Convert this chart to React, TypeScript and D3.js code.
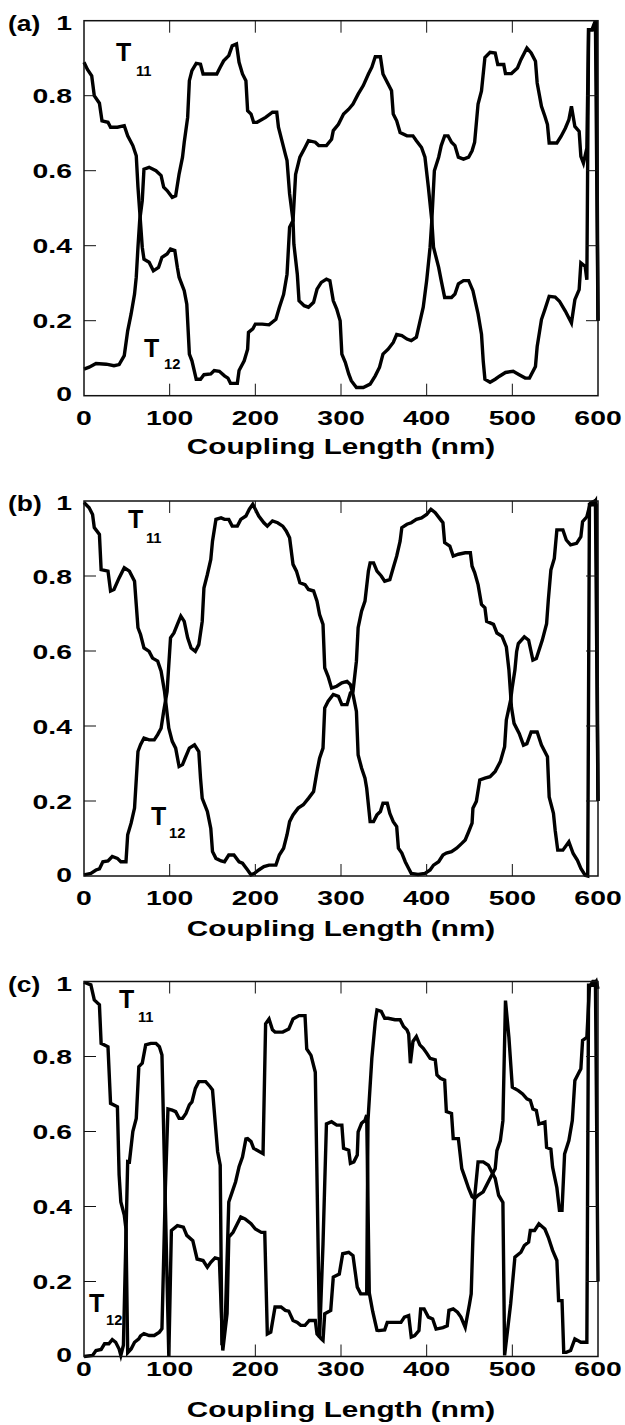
import React from 'react';
import * as d3 from 'd3';

// ---------- data ----------
const xTicks = [0, 100, 200, 300, 400, 500, 600];
const yTicks = [0, 0.2, 0.4, 0.6, 0.8, 1];
const yTickLabels = ['0', '0.2', '0.4', '0.6', '0.8', '1'];
const panelLabels = ['(a)', '(b)', '(c)'];
const xTitle = 'Coupling Length (nm)';

const aT11: [number, number][] = [
  [0, 0.889], [4, 0.87], [9, 0.853], [12, 0.8], [18, 0.78], [21, 0.733], [28, 0.729], [31, 0.716], [39, 0.716], [47, 0.72],
  [51, 0.693], [57, 0.667], [61, 0.64], [63, 0.556], [65, 0.493], [68, 0.396], [70, 0.364], [76, 0.356], [81, 0.333], [87, 0.342],
  [91, 0.369], [97, 0.378], [101, 0.391], [106, 0.387], [109, 0.342], [111, 0.316], [117, 0.28], [120, 0.244], [123, 0.111], [126, 0.093],
  [131, 0.044], [136, 0.044], [140, 0.056], [148, 0.058], [152, 0.067], [158, 0.065], [164, 0.053], [168, 0.047], [171, 0.033], [179, 0.033],
  [181, 0.067], [187, 0.093], [191, 0.124], [192, 0.169], [197, 0.178], [200, 0.191], [208, 0.191], [216, 0.189], [224, 0.204], [228, 0.235],
  [233, 0.27], [237, 0.324], [240, 0.449], [244, 0.467], [247, 0.59], [252, 0.636], [258, 0.662], [262, 0.68], [270, 0.676], [274, 0.667],
  [283, 0.667], [289, 0.684], [291, 0.707], [297, 0.724], [303, 0.751], [309, 0.764], [314, 0.778], [320, 0.804], [326, 0.827], [332, 0.858],
  [336, 0.876], [340, 0.904], [346, 0.904], [349, 0.858], [355, 0.831], [359, 0.813], [361, 0.751], [365, 0.733], [369, 0.702], [377, 0.693],
  [384, 0.693], [388, 0.68], [394, 0.662], [398, 0.636], [402, 0.556], [406, 0.467], [408, 0.396], [414, 0.342], [417, 0.307], [421, 0.262],
  [429, 0.262], [433, 0.271], [437, 0.298], [443, 0.307], [449, 0.307], [454, 0.28], [460, 0.218], [464, 0.164], [466, 0.093], [468, 0.044],
  [474, 0.036], [480, 0.044], [485, 0.052], [492, 0.062], [501, 0.065], [508, 0.056], [515, 0.047], [520, 0.047], [527, 0.078], [529, 0.131],
  [534, 0.203], [538, 0.23], [543, 0.265], [550, 0.263], [555, 0.252], [562, 0.225], [569, 0.194], [573, 0.256], [578, 0.283], [580, 0.354],
  [585, 0.345], [587, 0.309], [589, 0.976], [593, 0.976], [597, 1.0], [600, 0.2],
];
const aT12: [number, number][] = [
  [0, 0.071], [6, 0.076], [14, 0.086], [26, 0.084], [35, 0.08], [41, 0.083], [47, 0.107], [51, 0.173], [55, 0.218], [59, 0.271],
  [61, 0.316], [63, 0.396], [65, 0.467], [68, 0.52], [70, 0.604], [76, 0.609], [84, 0.6], [90, 0.587], [93, 0.556], [97, 0.547],
  [103, 0.529], [107, 0.533], [111, 0.591], [115, 0.636], [117, 0.676], [121, 0.742], [123, 0.84], [126, 0.867], [131, 0.886], [136, 0.884],
  [139, 0.858], [144, 0.858], [155, 0.858], [159, 0.876], [163, 0.893], [169, 0.907], [173, 0.933], [178, 0.938], [181, 0.889], [185, 0.858],
  [189, 0.84], [191, 0.76], [195, 0.751], [198, 0.729], [202, 0.729], [212, 0.742], [220, 0.756], [225, 0.756], [227, 0.716], [231, 0.68],
  [235, 0.644], [237, 0.627], [240, 0.538], [244, 0.467], [245, 0.404], [249, 0.324], [251, 0.253], [257, 0.24], [262, 0.236], [268, 0.249],
  [272, 0.284], [277, 0.302], [283, 0.311], [287, 0.307], [291, 0.253], [295, 0.231], [299, 0.2], [301, 0.111], [305, 0.089], [309, 0.058],
  [312, 0.04], [318, 0.022], [326, 0.022], [334, 0.031], [340, 0.053], [345, 0.076], [349, 0.111], [355, 0.124], [361, 0.142], [365, 0.163],
  [371, 0.16], [377, 0.151], [382, 0.147], [388, 0.156], [392, 0.196], [396, 0.236], [400, 0.307], [404, 0.396], [406, 0.467], [409, 0.6],
  [414, 0.636], [417, 0.667], [421, 0.693], [425, 0.693], [429, 0.676], [433, 0.667], [437, 0.636], [443, 0.631], [449, 0.636], [453, 0.653],
  [456, 0.676], [460, 0.778], [464, 0.813], [468, 0.902], [474, 0.916], [480, 0.914], [483, 0.883], [490, 0.883], [492, 0.859], [499, 0.859],
  [506, 0.874], [510, 0.896], [517, 0.927], [522, 0.914], [527, 0.892], [529, 0.834], [534, 0.772], [538, 0.745], [541, 0.723], [543, 0.674],
  [552, 0.674], [557, 0.692], [562, 0.714], [566, 0.736], [569, 0.772], [573, 0.718], [578, 0.705], [580, 0.638], [583, 0.62], [587, 0.66],
  [589, 0.976], [594, 0.976], [598, 1.0], [600, 0.2],
];

const bT11: [number, number][] = [
  [0, 0.996], [6, 0.982], [10, 0.964], [12, 0.929], [18, 0.911], [20, 0.817], [28, 0.813], [31, 0.76], [35, 0.764], [41, 0.795],
  [47, 0.822], [53, 0.813], [59, 0.786], [61, 0.724], [63, 0.662], [66, 0.644], [70, 0.608], [76, 0.599], [80, 0.581], [86, 0.573],
  [90, 0.546], [94, 0.492], [99, 0.394], [103, 0.359], [107, 0.341], [111, 0.292], [115, 0.297], [118, 0.314], [123, 0.341], [129, 0.35],
  [134, 0.332], [136, 0.261], [138, 0.207], [144, 0.172], [148, 0.127], [150, 0.065], [154, 0.047], [160, 0.04], [164, 0.038], [169, 0.056],
  [175, 0.056], [181, 0.038], [185, 0.034], [191, 0.016], [195, 0.003], [199, 0.007], [204, 0.016], [210, 0.025], [216, 0.029], [224, 0.029],
  [228, 0.056], [233, 0.074], [237, 0.11], [240, 0.145], [244, 0.163], [250, 0.181], [256, 0.19], [262, 0.207], [268, 0.225], [272, 0.279],
  [275, 0.314], [279, 0.341], [281, 0.448], [285, 0.466], [291, 0.484], [297, 0.479], [301, 0.457], [307, 0.457], [311, 0.488], [314, 0.492],
  [318, 0.573], [320, 0.662], [324, 0.706], [328, 0.733], [332, 0.813], [334, 0.835], [338, 0.835], [342, 0.813], [347, 0.8], [351, 0.786],
  [357, 0.79], [361, 0.822], [365, 0.853], [369, 0.893], [371, 0.929], [377, 0.938], [382, 0.942], [388, 0.951], [394, 0.955], [400, 0.964],
  [405, 0.978], [410, 0.969], [416, 0.951], [419, 0.942], [421, 0.889], [427, 0.88], [431, 0.853], [437, 0.858], [445, 0.862], [451, 0.862],
  [453, 0.826], [456, 0.809], [460, 0.777], [464, 0.724], [468, 0.715], [470, 0.679], [478, 0.671], [482, 0.648], [488, 0.639], [493, 0.611],
  [496, 0.55], [499, 0.45], [502, 0.407], [508, 0.38], [513, 0.349], [517, 0.353], [522, 0.384], [529, 0.384], [534, 0.349], [541, 0.318],
  [543, 0.211], [548, 0.167], [550, 0.122], [553, 0.069], [559, 0.069], [566, 0.091], [571, 0.06], [576, 0.042], [580, 0.02], [585, 0.002],
  [588, 0.0], [590, 0.99], [594, 0.99], [597, 1.0], [600, 0.2],
];
const bT12: [number, number][] = [
  [0, 0.003], [8, 0.007], [14, 0.016], [18, 0.019], [22, 0.038], [28, 0.04], [33, 0.052], [39, 0.047], [43, 0.038], [49, 0.038],
  [51, 0.11], [55, 0.141], [59, 0.181], [63, 0.332], [66, 0.35], [70, 0.368], [76, 0.363], [82, 0.363], [86, 0.377], [90, 0.394],
  [93, 0.439], [97, 0.492], [101, 0.635], [105, 0.648], [109, 0.671], [113, 0.693], [117, 0.679], [121, 0.635], [125, 0.608], [130, 0.599],
  [134, 0.617], [138, 0.679], [140, 0.768], [144, 0.804], [148, 0.844], [150, 0.893], [154, 0.951], [160, 0.955], [164, 0.951], [169, 0.951],
  [173, 0.933], [179, 0.933], [183, 0.951], [189, 0.96], [193, 0.978], [197, 0.991], [200, 0.978], [204, 0.96], [210, 0.942], [214, 0.933],
  [220, 0.947], [226, 0.942], [232, 0.933], [236, 0.92], [240, 0.902], [244, 0.831], [248, 0.813], [252, 0.782], [258, 0.777], [262, 0.764],
  [268, 0.76], [272, 0.733], [275, 0.697], [279, 0.671], [281, 0.555], [285, 0.532], [289, 0.501], [295, 0.506], [301, 0.515], [307, 0.519],
  [311, 0.51], [314, 0.484], [318, 0.439], [320, 0.323], [324, 0.288], [328, 0.261], [330, 0.234], [334, 0.145], [338, 0.145], [342, 0.163],
  [346, 0.172], [349, 0.194], [354, 0.194], [357, 0.167], [361, 0.145], [365, 0.132], [367, 0.074], [371, 0.061], [375, 0.038], [379, 0.02],
  [382, 0.007], [390, 0.004], [398, 0.007], [404, 0.016], [408, 0.029], [414, 0.038], [419, 0.056], [423, 0.061], [429, 0.065], [435, 0.074],
  [441, 0.087], [445, 0.096], [449, 0.118], [453, 0.141], [454, 0.181], [458, 0.199], [462, 0.256], [468, 0.261], [474, 0.265], [480, 0.279],
  [486, 0.305], [491, 0.345], [493, 0.416], [498, 0.469], [500, 0.505], [503, 0.549], [505, 0.598], [507, 0.62], [514, 0.638], [519, 0.629],
  [524, 0.576], [528, 0.58], [535, 0.629], [540, 0.673], [542, 0.736], [545, 0.816], [549, 0.847], [552, 0.923], [559, 0.923], [563, 0.896],
  [568, 0.883], [575, 0.887], [580, 0.905], [582, 0.945], [587, 0.958], [591, 0.994], [596, 1.0], [598, 0.99], [600, 0.2],
];

const cT11: [number, number][] = [
  [0, 0.998], [8, 0.991], [12, 0.951], [18, 0.938], [20, 0.835], [28, 0.826], [31, 0.675], [39, 0.666], [41, 0.484], [43, 0.412],
  [47, 0.377], [49, 0.34], [51, 0.01], [55, 0.02], [59, 0.038], [64, 0.047], [66, 0.055], [70, 0.061], [76, 0.056], [82, 0.056],
  [88, 0.065], [91, 0.074], [95, 0.45], [98, 0.66], [103, 0.657], [107, 0.653], [111, 0.635], [115, 0.635], [119, 0.648], [123, 0.671],
  [126, 0.679], [130, 0.715], [134, 0.733], [142, 0.733], [147, 0.72], [150, 0.711], [156, 0.546], [159, 0.51], [161, 0.03], [165, 0.1],
  [169, 0.412], [173, 0.439], [177, 0.466], [181, 0.506], [185, 0.532], [189, 0.58], [191, 0.581], [195, 0.573], [198, 0.555], [202, 0.55],
  [209, 0.541], [212, 0.887], [216, 0.9], [220, 0.871], [223, 0.865], [232, 0.865], [239, 0.873], [244, 0.9], [251, 0.909], [258, 0.909],
  [260, 0.82], [265, 0.803], [270, 0.758], [275, 0.05], [279, 0.3], [283, 0.62], [289, 0.626], [295, 0.617], [301, 0.617], [303, 0.555],
  [309, 0.55], [311, 0.515], [315, 0.519], [319, 0.537], [320, 0.599], [324, 0.622], [328, 0.63], [330, 0.644], [333, 0.17], [337, 0.12],
  [342, 0.07], [344, 0.069], [351, 0.071], [354, 0.091], [363, 0.091], [370, 0.091], [374, 0.105], [379, 0.109], [382, 0.052], [386, 0.056],
  [391, 0.069], [393, 0.127], [397, 0.127], [402, 0.105], [407, 0.1], [411, 0.073], [419, 0.077], [424, 0.082], [426, 0.123], [431, 0.127],
  [436, 0.118], [440, 0.105], [445, 0.078], [450, 0.14], [452, 0.167], [454, 0.318], [456, 0.425], [460, 0.519], [466, 0.519], [472, 0.51],
  [476, 0.492], [480, 0.475], [484, 0.43], [489, 0.411], [491, 0.003], [498, 0.14], [503, 0.265], [510, 0.278], [514, 0.296], [519, 0.305],
  [521, 0.336], [526, 0.336], [531, 0.354], [538, 0.34], [542, 0.318], [547, 0.283], [552, 0.256], [554, 0.149], [558, 0.149], [560, 0.011],
  [563, 0.011], [568, 0.016], [573, 0.047], [580, 0.038], [587, 0.038], [589, 0.99], [595, 0.99], [598, 1.0], [600, 0.98],
];
const cT12: [number, number][] = [
  [0, 0.0], [10, 0.003], [14, 0.016], [20, 0.019], [24, 0.034], [29, 0.034], [33, 0.045], [37, 0.038], [41, 0.02], [43, 0.003],
  [46, 0.03], [51, 0.52], [53, 0.519], [57, 0.6], [61, 0.635], [64, 0.773], [68, 0.782], [72, 0.831], [78, 0.835], [84, 0.835],
  [88, 0.826], [91, 0.804], [99, 0.0], [102, 0.336], [109, 0.349], [116, 0.345], [120, 0.323], [127, 0.309], [132, 0.26], [139, 0.256],
  [144, 0.238], [148, 0.251], [153, 0.263], [158, 0.26], [162, 0.016], [167, 0.114], [169, 0.318], [174, 0.331], [179, 0.354], [183, 0.372],
  [188, 0.367], [195, 0.354], [200, 0.34], [207, 0.331], [211, 0.331], [214, 0.06], [218, 0.065], [223, 0.132], [230, 0.132], [235, 0.123],
  [239, 0.121], [244, 0.096], [249, 0.091], [253, 0.083], [258, 0.083], [263, 0.096], [270, 0.096], [272, 0.06], [277, 0.047], [279, 0.043],
  [281, 0.114], [288, 0.123], [291, 0.212], [298, 0.22], [302, 0.274], [309, 0.278], [314, 0.269], [319, 0.185], [323, 0.167], [330, 0.167],
  [331.5, 0.63], [336, 0.795], [340, 0.893], [342, 0.924], [347, 0.92], [351, 0.902], [355, 0.902], [363, 0.898], [369, 0.898], [373, 0.88],
  [377, 0.871], [379, 0.86], [381, 0.782], [384, 0.84], [388, 0.853], [392, 0.831], [396, 0.822], [400, 0.809], [404, 0.795], [410, 0.791],
  [412, 0.751], [416, 0.742], [421, 0.737], [423, 0.653], [429, 0.648], [431, 0.581], [437, 0.581], [441, 0.501], [445, 0.475], [449, 0.448],
  [453, 0.426], [456, 0.421], [460, 0.43], [466, 0.439], [470, 0.457], [476, 0.484], [480, 0.501], [482, 0.549], [486, 0.576], [489, 0.629],
  [492, 0.949], [496, 0.851], [500, 0.718], [507, 0.709], [512, 0.7], [517, 0.687], [521, 0.683], [524, 0.66], [528, 0.656], [531, 0.62],
  [538, 0.625], [540, 0.558], [545, 0.553], [547, 0.505], [552, 0.45], [555, 0.39], [558, 0.39], [561, 0.54], [566, 0.576], [570, 0.629],
  [573, 0.736], [577, 0.754], [580, 0.767], [582, 0.843], [587, 0.851], [590, 0.985], [594, 1.0], [597, 1.0], [600, 0.2],
];

const panelSeries = [
  [aT11, aT12],
  [bT11, bT12],
  [cT11, cT12],
];

// ---------- layout ----------
const W = 625;
const H = 1425;
const X0 = 84;
const X1 = 598;
const PH = 375;
const TOPS = [20.7, 501, 981.5];
const TICKLABEL_OFF = [22, 21.5, 11.5];
const TITLE_OFF = [50, 52, 52];
const FONT = '"Liberation Sans", Arial, Helvetica, sans-serif';
const SX = 1.35;
// positions of the T labels (T left, T baseline, sub left, sub baseline), relative to panel top
const TLAB = [
  { t11: [116, 40.5, 136, 55.5], t12: [144, 336.5, 164, 348.5] },
  { t11: [128, 27, 146, 42], t12: [151, 324, 169, 337] },
  { t11: [119, 26.5, 138, 40.5], t12: [89, 330.5, 106, 343.5] },
];

function SText(props: { x: number; y: number; anchor?: string; size: number; sx?: number; children: React.ReactNode }) {
  const { x, y, anchor = 'start', size, sx = SX, children } = props;
  return (
    <text
      transform={`translate(${x},${y}) scale(${sx},1)`}
      textAnchor={anchor as any}
      fontSize={size}
      fontWeight="bold"
      fontFamily={FONT}
      fill="#000"
    >
      {children}
    </text>
  );
}

function Panel({ idx }: { idx: number }) {
  const top = TOPS[idx];
  const x = d3.scaleLinear().domain([0, 600]).range([X0, X1]);
  const y = d3.scaleLinear().domain([0, 1]).range([top + PH, top]);
  const line = d3
    .line<[number, number]>()
    .x((d) => x(d[0]))
    .y((d) => y(d[1]));
  const [s1, s2] = panelSeries[idx];
  const lab = TLAB[idx];
  const bottom = top + PH;
  return (
    <g>
      {/* curves */}
      <path d={line(s1) || ''} fill="none" stroke="#000" strokeWidth={3.4} />
      <path d={line(s2) || ''} fill="none" stroke="#000" strokeWidth={3.4} />
      {/* frame */}
      <rect x={X0} y={top} width={X1 - X0} height={PH} fill="none" stroke="#111" strokeWidth={1.5} />
      {/* x ticks */}
      {xTicks
        .filter((t) => t > 0 && t < 600)
        .map((t) => (
          <g key={'xt' + t}>
            <line x1={x(t)} x2={x(t)} y1={bottom} y2={bottom - 12} stroke="#111" strokeWidth={1} />
            <line x1={x(t)} x2={x(t)} y1={top} y2={top + 12} stroke="#111" strokeWidth={1} />
          </g>
        ))}
      {/* y ticks */}
      {yTicks
        .filter((t) => t > 0 && t < 1)
        .map((t) => (
          <g key={'yt' + t}>
            <line x1={X0} x2={X0 + 12} y1={y(t)} y2={y(t)} stroke="#111" strokeWidth={1} />
            <line x1={X1} x2={X1 - 12} y1={y(t)} y2={y(t)} stroke="#111" strokeWidth={1} />
          </g>
        ))}
      {/* y tick labels */}
      {yTicks.map((t, i) => {
        const cy = y(t) + (t === 1 ? 1.5 : t === 0 ? -2 : 0);
        return (
          <SText key={'yl' + t} x={72} y={cy + 7.5} anchor="end" size={21}>
            {yTickLabels[i]}
          </SText>
        );
      })}
      {/* x tick labels */}
      {xTicks.map((t) => (
        <SText key={'xl' + t} x={x(t)} y={bottom + TICKLABEL_OFF[idx] + 7.5} anchor="middle" size={21}>
          {String(t)}
        </SText>
      ))}
      {/* axis title */}
      <SText x={(X0 + X1) / 2} y={bottom + TITLE_OFF[idx] + 8} anchor="middle" size={22}>
        {xTitle}
      </SText>
      {/* panel label */}
      <SText x={8} y={top + 10} size={22} sx={1.2}>
        {panelLabels[idx]}
      </SText>
      {/* series labels */}
      <SText x={lab.t11[0]} y={top + lab.t11[1]} size={25} sx={1}>T</SText>
      <SText x={lab.t11[2]} y={top + lab.t11[3]} size={14} sx={1.05}>11</SText>
      <SText x={lab.t12[0]} y={top + lab.t12[1]} size={25} sx={1}>T</SText>
      <SText x={lab.t12[2]} y={top + lab.t12[3]} size={14} sx={1.05}>12</SText>
    </g>
  );
}

export default function App() {
  return (
    <svg
      width={W}
      height={H}
      viewBox={`0 0 ${W} ${H}`}
      style={{ position: 'absolute', left: 0, top: 0, background: '#fff' }}
    >
      <rect x={0} y={0} width={W} height={H} fill="#fff" />
      {[0, 1, 2].map((i) => (
        <Panel key={i} idx={i} />
      ))}
    </svg>
  );
}
